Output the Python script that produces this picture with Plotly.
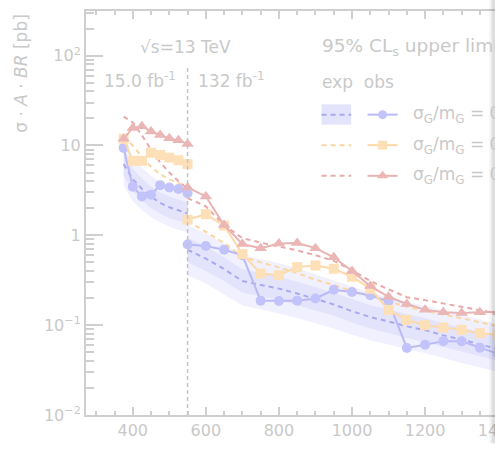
import plotly.graph_objects as go

# ---- mass points (GeV) ----
mass_low = [375, 400, 425, 450, 475, 500, 525, 550]
mass_high = [550, 600, 650, 700, 750, 800, 850, 900, 950, 1000,
             1050, 1100, 1150, 1200, 1250, 1300, 1350, 1400]

# ---- observed limits [pb] ----
obs_a_low = [9.4, 3.47, 2.71, 2.83, 3.62, 3.41, 3.28, 2.94]
obs_b_low = [11.9, 6.75, 6.75, 8.3, 7.83, 7.33, 6.86, 6.2]
obs_c_low = [11.9, 15.7, 16.4, 14.3, 13.1, 12.0, 11.4, 10.4]

obs_a_high = [0.79, 0.76, 0.69, 0.60, 0.1875, 0.186, 0.1875, 0.198, 0.248, 0.234,
              0.215, 0.183, 0.0557, 0.0605, 0.0664, 0.066, 0.0562, 0.048]
obs_b_high = [1.49, 1.72, 1.28, 0.62, 0.376, 0.36, 0.443, 0.462, 0.425, 0.346,
              0.254, 0.148, 0.114, 0.100, 0.094, 0.0887, 0.0815, 0.078]
obs_c_high = [3.41, 2.71, 1.30, 0.80, 0.718, 0.81, 0.82, 0.72, 0.57, 0.40,
              0.272, 0.207, 0.172, 0.148, 0.139, 0.137, 0.139, 0.140]

# ---- expected limits [pb] ----
exp_a_low = [6.2, 4.2, 3.3, 2.7, 2.3, 2.05, 1.9, 1.75]
exp_b_low = [12.5, 10.0, 7.5, 5.8, 4.8, 4.2, 3.8, 3.5]
exp_c_low = [21.0, 18.0, 13.0, 9.0, 6.5, 5.0, 4.0, 3.3]

exp_a_high = [0.69, 0.55, 0.42, 0.31, 0.28, 0.255, 0.225, 0.195, 0.17, 0.143,
              0.123, 0.11, 0.097, 0.088, 0.077, 0.069, 0.061, 0.054]
exp_b_high = [1.45, 1.10, 0.82, 0.58, 0.50, 0.44, 0.38, 0.32, 0.28, 0.24,
              0.21, 0.185, 0.16, 0.145, 0.132, 0.12, 0.108, 0.097]
exp_c_high = [2.6, 2.1, 1.3, 0.93, 0.83, 0.75, 0.68, 0.60, 0.52, 0.41,
              0.31, 0.25, 0.205, 0.19, 0.173, 0.16, 0.147, 0.135]

# ---- expected +-1 / +-2 sigma bands for the narrowest width ----
band2_dn_low = [3.6, 2.4, 1.9, 1.6, 1.4, 1.25, 1.15, 1.08]
band1_dn_low = [4.6, 3.1, 2.45, 2.0, 1.75, 1.55, 1.45, 1.35]
band1_up_low = [8.0, 5.5, 4.3, 3.5, 3.0, 2.7, 2.5, 2.3]
band2_up_low = [10.2, 7.2, 5.6, 4.6, 3.9, 3.5, 3.25, 3.0]

band2_dn_high = [0.36, 0.29, 0.22, 0.165, 0.15, 0.135, 0.12, 0.105, 0.092, 0.078,
                 0.068, 0.061, 0.054, 0.049, 0.043, 0.038, 0.034, 0.030]
band1_dn_high = [0.50, 0.40, 0.31, 0.23, 0.21, 0.19, 0.167, 0.145, 0.127, 0.107,
                 0.092, 0.082, 0.072, 0.065, 0.057, 0.051, 0.045, 0.040]
band1_up_high = [0.94, 0.75, 0.57, 0.42, 0.38, 0.345, 0.305, 0.265, 0.23, 0.195,
                 0.167, 0.15, 0.132, 0.12, 0.105, 0.094, 0.083, 0.074]
band2_up_high = [1.3, 1.05, 0.8, 0.6, 0.54, 0.49, 0.43, 0.37, 0.32, 0.27,
                 0.23, 0.205, 0.18, 0.165, 0.145, 0.13, 0.115, 0.102]

width_labels = ["0.05", "0.10", "0.15"]
y_tickvals = [0.01, 0.1, 1, 10, 100]
y_ticktext = ["10<sup>\u22122</sup>", "10<sup>\u22121</sup>", "1", "10", "10<sup>2</sup>"]
lumi_split = 550

# ---- styling ----
FONT = "DejaVu Sans"
TXT = "#c9c9c9"
AX = "#cfcfcf"
BAND2 = "#f0f0fe"
BAND1 = "#e3e3fc"
styles = [
    dict(line="#b9b9f6", marker="#c3c3fb", exp="#a9a9ef", symbol="circle", size=10),
    dict(line="#fdd9a8", marker="#fee0b8", exp="#fcd6a0", symbol="square", size=10),
    dict(line="#e9b3b3", marker="#ebb6b6", exp="#eaa9a9", symbol="triangle-up", size=11),
]

fig = go.Figure()


def add_band(x, lo, hi, color):
    fig.add_trace(go.Scatter(x=x, y=lo, mode="lines", line=dict(width=0),
                             hoverinfo="skip", showlegend=False))
    fig.add_trace(go.Scatter(x=x, y=hi, mode="lines", line=dict(width=0),
                             fill="tonexty", fillcolor=color,
                             hoverinfo="skip", showlegend=False))


for x, d2, d1, u1, u2 in [
    (mass_low, band2_dn_low, band1_dn_low, band1_up_low, band2_up_low),
    (mass_high, band2_dn_high, band1_dn_high, band1_up_high, band2_up_high),
]:
    add_band(x, d2, u2, BAND2)
    add_band(x, d1, u1, BAND1)

expected = [(exp_a_low, exp_a_high), (exp_b_low, exp_b_high), (exp_c_low, exp_c_high)]
observed = [(obs_a_low, obs_a_high), (obs_b_low, obs_b_high), (obs_c_low, obs_c_high)]

for st, (lo, hi) in zip(styles, expected):
    for x, y in ((mass_low, lo), (mass_high, hi)):
        fig.add_trace(go.Scatter(x=x, y=y, mode="lines",
                                 line=dict(color=st["exp"], width=2, dash="5px,4px"),
                                 showlegend=False))

for st, (lo, hi) in zip(styles, observed):
    for x, y in ((mass_low, lo), (mass_high, hi)):
        fig.add_trace(go.Scatter(x=x, y=y, mode="lines+markers",
                                 line=dict(color=st["line"], width=2),
                                 marker=dict(color=st["marker"], symbol=st["symbol"],
                                             size=st["size"], line=dict(width=0)),
                                 showlegend=False))

# ---- legend samples on a unit overlay axis ----
rows = [0.7435, 0.668, 0.592]
exp_x = [0.533, 0.600]
obs_x = [0.637, 0.705]
for st, row, wl in zip(styles, rows, width_labels):
    fig.add_trace(go.Scatter(x=exp_x, y=[row, row], xaxis="x2", yaxis="y2", mode="lines",
                             line=dict(color=st["exp"], width=2, dash="5px,4px"),
                             showlegend=False))
    fig.add_trace(go.Scatter(x=obs_x, y=[row, row], xaxis="x2", yaxis="y2", mode="lines",
                             line=dict(color=st["line"], width=2), showlegend=False))
    fig.add_trace(go.Scatter(x=[sum(obs_x) / 2], y=[row], xaxis="x2", yaxis="y2",
                             mode="markers",
                             marker=dict(color=st["marker"], symbol=st["symbol"],
                                         size=st["size"] - 1, line=dict(width=0)),
                             showlegend=False))
    fig.add_annotation(x=0.735, y=row, xref="paper", yref="paper", xanchor="left",
                       yanchor="middle", showarrow=False,
                       text="\u03c3<sub>G</sub>/m<sub>G</sub> = " + wl,
                       font=dict(family=FONT, size=17, color=TXT))

shapes = [
    # band swatch behind the first expected sample
    dict(type="rect", xref="paper", yref="paper", x0=exp_x[0], x1=exp_x[1],
         y0=0.7188, y1=0.769, fillcolor=BAND1, line=dict(width=0), layer="below"),
    # luminosity boundary
    dict(type="line", xref="x", yref="paper", x0=lumi_split, x1=lumi_split, y0=0, y1=0.863,
         line=dict(color="#c4c4c4", width=1.5, dash="4px,3px")),
    # window edge shading
    dict(type="rect", xref="paper", yref="paper", x0=0.9125, x1=0.918, y0=-0.07, y1=1.04,
         fillcolor="rgba(0,0,0,0.05)", line=dict(width=0), layer="above"),
    dict(type="rect", xref="paper", yref="paper", x0=0.918, x1=1.0, y0=-0.07, y1=1.04,
         fillcolor="rgba(0,0,0,0.13)", line=dict(width=0), layer="above"),
]

texts = [
    dict(x=0.1176, y=0.911, text="\u221as=13 TeV", size=17),
    dict(x=0.036, y=0.829, text="15.0 fb<sup>-1</sup>", size=17),
    dict(x=0.249, y=0.829, text="132 fb<sup>-1</sup>", size=17),
    dict(x=0.529, y=0.911, text="95% CL<sub>s</sub> upper limits", size=18.5),
    dict(x=0.529, y=0.825, text="exp \u00a0obs", size=17),
]
for t in texts:
    fig.add_annotation(x=t["x"], y=t["y"], xref="paper", yref="paper", xanchor="left",
                       yanchor="middle", showarrow=False, text=t["text"],
                       font=dict(family=FONT, size=t["size"], color=TXT))

fig.add_annotation(x=-0.149, y=0.845, xref="paper", yref="paper", textangle=-90,
                   xanchor="center", yanchor="middle", showarrow=False,
                   text="\u03c3 \u00b7 <i>A</i> \u00b7 <i>BR</i> [pb]",
                   font=dict(family=FONT, size=17, color=TXT))

fig.update_layout(
    width=548, height=449,
    margin=dict(l=86, r=20, t=9, b=24),
    paper_bgcolor="white", plot_bgcolor="white",
    showlegend=False,
    shapes=shapes,
    font=dict(family=FONT, size=16, color=TXT),
    xaxis=dict(range=[272, 1481.6], dtick=200, tick0=0, ticks="inside", ticklen=8,
               tickwidth=1.5, tickcolor=AX, showline=True, linecolor=AX, linewidth=2,
               mirror="allticks", showgrid=False, zeroline=False,
               tickfont=dict(family=FONT, size=16, color=TXT),
               minor=dict(dtick=50, ticks="inside", ticklen=4, tickcolor=AX, showgrid=False)),
    yaxis=dict(type="log", range=[-2, 2.497], tickvals=y_tickvals, ticktext=y_ticktext,
               ticks="inside", ticklen=17, tickwidth=1.5, tickcolor=AX,
               showline=True, linecolor=AX, linewidth=2, mirror="allticks",
               showgrid=False, zeroline=False,
               tickfont=dict(family=FONT, size=16, color=TXT),
               minor=dict(dtick="D1", ticks="inside", ticklen=8, tickcolor=AX,
                          showgrid=False)),
    xaxis2=dict(overlaying="x", anchor="y2", range=[0, 1], visible=False),
    yaxis2=dict(overlaying="y", anchor="x2", range=[0, 1], visible=False),
)

fig.write_html("out.html",
               post_script="document.documentElement.style.overflow='hidden';"
                           "document.body.style.overflow='hidden';")
